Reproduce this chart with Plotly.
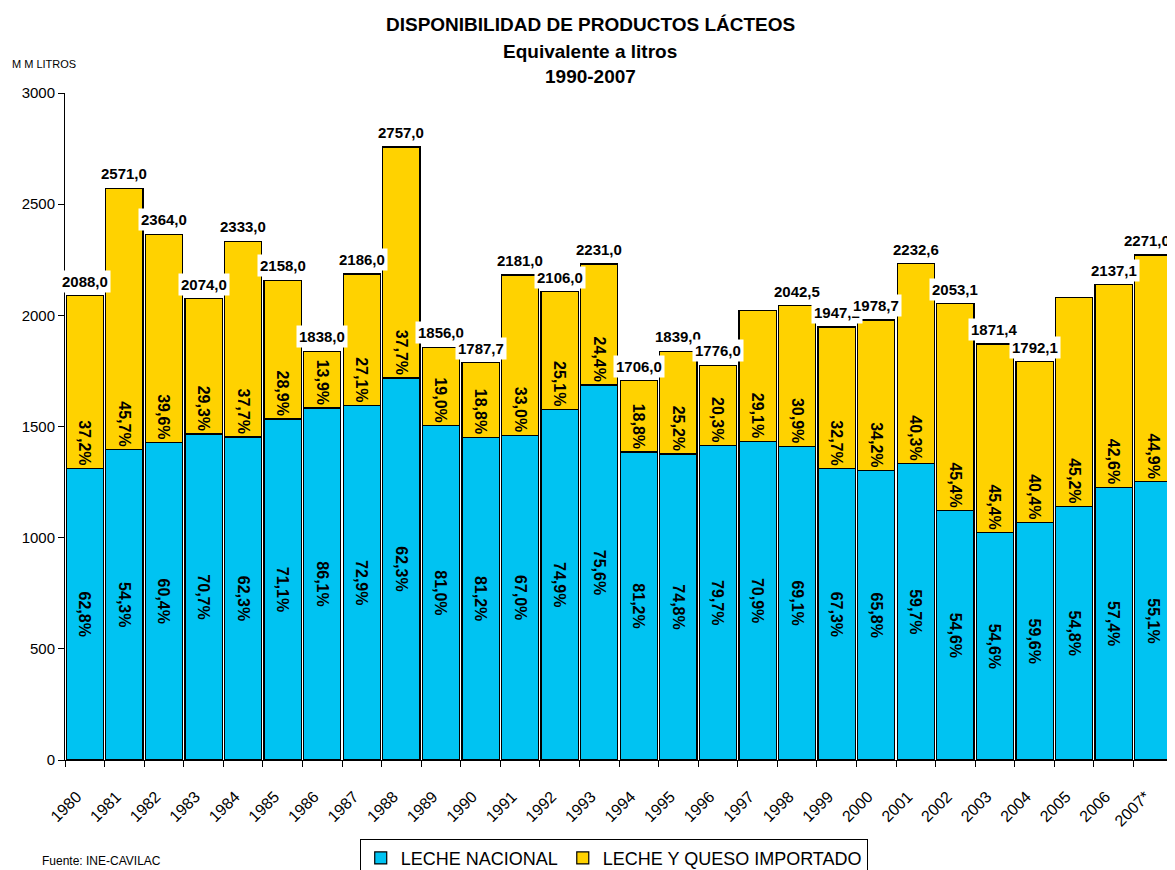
import plotly.graph_objects as go

years = ['1980', '1981', '1982', '1983', '1984', '1985', '1986', '1987', '1988', '1989',
         '1990', '1991', '1992', '1993', '1994', '1995', '1996', '1997', '1998', '1999',
         '2000', '2001', '2002', '2003', '2004', '2005', '2006', '2007*']

# totals (MM litros); 1997 and 2005 carry no label in the original
totals = [2088.0, 2571.0, 2364.0, 2074.0, 2333.0, 2158.0, 1838.0, 2186.0, 2757.0, 1856.0,
          1787.7, 2181.0, 2106.0, 2231.0, 1706.0, 1839.0, 1776.0, 2022.0, 2042.5, 1947.2,
          1978.7, 2232.6, 2053.1, 1871.4, 1792.1, 2080.0, 2137.1, 2271.0]
total_labels = ['2088,0', '2571,0', '2364,0', '2074,0', '2333,0', '2158,0', '1838,0', '2186,0',
                '2757,0', '1856,0', '1787,7', '2181,0', '2106,0', '2231,0', '1706,0', '1839,0',
                '1776,0', None, '2042,5', '1947,2', '1978,7', '2232,6', '2053,1', '1871,4',
                '1792,1', None, '2137,1', '2271,0']

nacional = [1311, 1396, 1428, 1466, 1453, 1534, 1583, 1594, 1718, 1503,
            1452, 1461, 1577, 1687, 1385, 1376, 1415, 1434, 1411, 1310,
            1302, 1333, 1121, 1022, 1068, 1140, 1227, 1251]
pct_nacional = ['62,8%', '54,3%', '60,4%', '70,7%', '62,3%', '71,1%', '86,1%', '72,9%', '62,3%',
                '81,0%', '81,2%', '67,0%', '74,9%', '75,6%', '81,2%', '74,8%', '79,7%', '70,9%',
                '69,1%', '67,3%', '65,8%', '59,7%', '54,6%', '54,6%', '59,6%', '54,8%', '57,4%',
                '55,1%']
pct_importado = ['37,2%', '45,7%', '39,6%', '29,3%', '37,7%', '28,9%', '13,9%', '27,1%', '37,7%',
                 '19,0%', '18,8%', '33,0%', '25,1%', '24,4%', '18,8%', '25,2%', '20,3%', '29,1%',
                 '30,9%', '32,7%', '34,2%', '40,3%', '45,4%', '45,4%', '40,4%', '45,2%', '42,6%',
                 '44,9%']
importado = [round(t - n, 1) for t, n in zip(totals, nacional)]

fnt = 'Liberation Sans, Arial, sans-serif'

fig = go.Figure()
fig.add_bar(x=years, y=nacional, name='LECHE NACIONAL', text=pct_nacional,
            marker=dict(color='#00c3f2', line=dict(color='black', width=1.2)),
            textposition='inside', insidetextanchor='middle', textangle=90,
            constraintext='none',
            textfont=dict(family=fnt, size=16, color='black', weight='bold'))
fig.add_bar(x=years, y=importado, name='LECHE Y QUESO IMPORTADO', text=pct_importado,
            marker=dict(color='#ffd200', line=dict(color='black', width=1.2)),
            textposition='inside', insidetextanchor='start', textangle=90,
            constraintext='none',
            textfont=dict(family=fnt, size=16, color='black', weight='bold'))

# total labels above each stack (x given as category index)
last = len(years) - 1
for i, (tot, lab) in enumerate(zip(totals, total_labels)):
    if lab is None:
        continue
    fig.add_annotation(x=i + 0.5 if i == last else i, y=tot, text='<b>' + lab + '</b>',
                       showarrow=False, xanchor='right' if i == last else 'center',
                       yanchor='bottom', yshift=3, bgcolor='white', borderpad=2,
                       font=dict(family=fnt, size=15, color='black'))

# title, three lines
for txt, yp in [('DISPONIBILIDAD DE PRODUCTOS LÁCTEOS', 1.102),
                ('Equivalente a litros', 1.0625),
                ('1990-2007', 1.025)]:
    fig.add_annotation(text='<b>' + txt + '</b>', xref='paper', yref='paper', x=0.474, y=yp,
                       xanchor='center', yanchor='middle', showarrow=False,
                       font=dict(family=fnt, size=19, color='black'))
fig.add_annotation(text='M M LITROS', xref='paper', yref='paper', x=-0.05, y=1.032,
                   xanchor='left', yanchor='bottom', showarrow=False,
                   font=dict(family=fnt, size=11, color='black'))
fig.add_annotation(text='Fuente: INE-CAVILAC', xref='paper', yref='paper', x=-0.023, y=-0.138,
                   xanchor='left', yanchor='top', showarrow=False,
                   font=dict(family=fnt, size=12, color='black'))

# page body keeps an 8px margin, so the figure is 8px smaller on each axis
fig.update_layout(
    width=1167, height=862,
    barmode='stack', bargap=0.06,
    plot_bgcolor='white', paper_bgcolor='white',
    margin=dict(l=57, r=2, t=85, b=110, autoexpand=False),
    font=dict(family=fnt, color='black'),
    showlegend=True,
    legend=dict(orientation='h', x=0.266, y=-0.118, xanchor='left', yanchor='top',
                traceorder='normal',
                bordercolor='black', borderwidth=1, bgcolor='white',
                font=dict(family=fnt, size=18, color='black'),
                itemwidth=30, tracegroupgap=0),
)
fig.update_xaxes(type='category', range=[-0.5, len(years) - 0.5], automargin=False,
                 showline=True, linecolor='black', linewidth=1,
                 ticks='outside', tickson='boundaries', ticklen=6, tickcolor='black',
                 tickangle=-45, ticklabelstandoff=20, ticklabelshift=-8,
                 tickfont=dict(family=fnt, size=16, color='black'),
                 showgrid=False)
fig.update_yaxes(range=[0, 3000], dtick=500, automargin=False,
                 showline=True, linecolor='black', linewidth=1,
                 ticks='outside', ticklen=6, tickcolor='black', showgrid=False, zeroline=False,
                 tickfont=dict(family=fnt, size=15, color='black'))

fig.write_html('out.html')
